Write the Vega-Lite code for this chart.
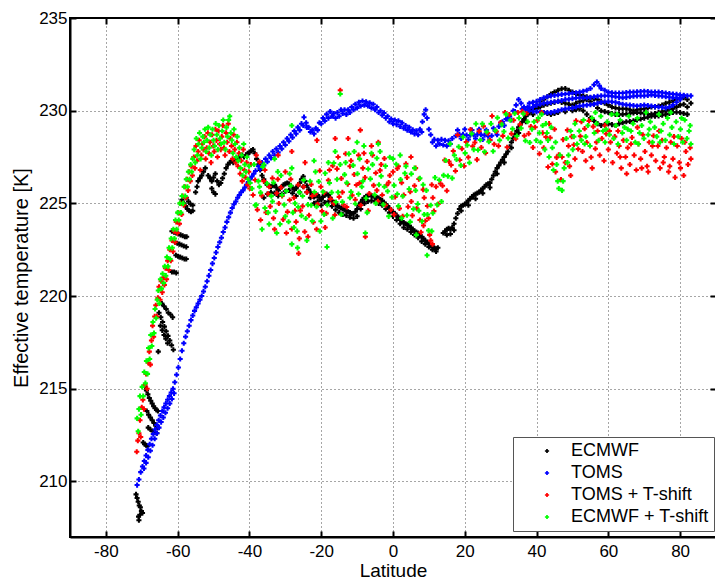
{
"$schema": "https://vega.github.io/schema/vega-lite/v6.json",
"width": 646, "height": 519,
"autosize": {"type": "none"},
"padding": {"left": 70, "top": 18, "right": 0, "bottom": 44},
"background": "white",
"config": {"view": {"stroke": "black", "strokeWidth": 2}, "font": "Liberation Sans"},
"datasets": {
"ecmwf": [
{"x":-71.6,"y":209.3},{"x":-71.3,"y":209.1},{"x":-71.0,"y":208.9},{"x":-70.7,"y":208.7},{"x":-70.4,"y":208.6},{"x":-70.1,"y":208.4},{"x":-69.8,"y":208.3},{"x":-70.9,"y":208.1},{"x":-70.8,"y":207.9},{"x":-70.5,"y":208.2},
{"x":-69.6,"y":212.1},{"x":-69.2,"y":212.0},{"x":-68.8,"y":211.95},{"x":-68.4,"y":211.9},
{"x":-68.2,"y":212.9},{"x":-67.6,"y":212.8},{"x":-67.0,"y":212.7},{"x":-66.4,"y":212.65},{"x":-65.8,"y":212.6},
{"x":-68.6,"y":213.8},{"x":-68.1,"y":213.6},{"x":-67.6,"y":213.45},{"x":-67.1,"y":213.3},{"x":-66.6,"y":213.15},{"x":-66.1,"y":213.0},{"x":-65.6,"y":212.9},
{"x":-69.1,"y":215.1},{"x":-68.7,"y":214.9},{"x":-68.3,"y":214.7},{"x":-67.9,"y":214.5},{"x":-67.5,"y":214.35},{"x":-67.1,"y":214.2},{"x":-66.7,"y":214.05},{"x":-66.3,"y":213.95},{"x":-65.9,"y":213.85},{"x":-65.5,"y":213.8},
{"x":-64.4,"y":219.6},{"x":-63.8,"y":219.45},{"x":-63.2,"y":219.3},{"x":-62.6,"y":219.1},{"x":-62.0,"y":219.0},{"x":-61.4,"y":218.85},
{"x":-65.2,"y":219.1},{"x":-64.7,"y":218.85},{"x":-64.2,"y":218.6},{"x":-63.7,"y":218.35},{"x":-63.2,"y":218.1},{"x":-62.7,"y":217.85},{"x":-62.2,"y":217.6},{"x":-61.7,"y":217.35},{"x":-61.2,"y":217.1},
{"x":-64.8,"y":218.4},{"x":-64.3,"y":218.15},{"x":-63.8,"y":217.9},{"x":-63.3,"y":217.7},{"x":-62.8,"y":217.45},{"x":-65.4,"y":217.0},
{"x":-61.6,"y":223.5},{"x":-61.0,"y":223.45},{"x":-60.4,"y":223.4},{"x":-59.8,"y":223.35},{"x":-59.2,"y":223.3},{"x":-58.6,"y":223.25},{"x":-58.0,"y":223.2},{"x":-57.5,"y":223.2},
{"x":-60.7,"y":222.9},{"x":-60.1,"y":222.85},{"x":-59.5,"y":222.8},{"x":-58.9,"y":222.75},{"x":-58.3,"y":222.7},{"x":-57.6,"y":222.65},
{"x":-60.5,"y":222.2},{"x":-59.9,"y":222.15},{"x":-59.3,"y":222.1},{"x":-58.7,"y":222.05},{"x":-58.1,"y":222.0},{"x":-57.6,"y":222.0},
{"x":-61.6,"y":221.3},{"x":-61.0,"y":221.3},{"x":-60.4,"y":221.25},
{"x":-58.8,"y":225.2},{"x":-58.3,"y":225.0},{"x":-57.8,"y":224.85},{"x":-57.3,"y":224.7},{"x":-56.8,"y":224.6},{"x":-56.3,"y":224.55},{"x":-55.8,"y":224.6},{"x":-57.6,"y":225.3},{"x":-57.0,"y":225.1},{"x":-56.4,"y":224.95},{"x":-55.8,"y":224.9},
{"x":-54.3,"y":226.2},{"x":-53.8,"y":226.35},{"x":-53.3,"y":226.5},{"x":-52.8,"y":226.7},{"x":-52.3,"y":226.9},{"x":-51.5,"y":226.5},{"x":-51,"y":226.35},{"x":-50.5,"y":226.2},{"x":-50,"y":226.4},{"x":-49.5,"y":226.6},{"x":-49,"y":226.2},{"x":-48.5,"y":226.0},{"x":-48,"y":226.1},{"x":-47.5,"y":226.35},{"x":-47,"y":226.6},{"x":-46.5,"y":226.9},{"x":-46,"y":227.1},{"x":-45.5,"y":227.2},{"x":-45,"y":227.3},{"x":-44.5,"y":227.2},{"x":-44,"y":227.35},{"x":-43.5,"y":227.4},{"x":-43,"y":227.5},{"x":-42.5,"y":227.55},{"x":-42,"y":227.6},{"x":-41.5,"y":227.5},{"x":-41,"y":227.6},{"x":-40.5,"y":227.7},{"x":-40,"y":227.75},{"x":-39.5,"y":227.85},{"x":-39,"y":227.9},{"x":-38.5,"y":227.7},{"x":-38,"y":227.4},{"x":-37.5,"y":227.1},{"x":-50.5,"y":225.8},{"x":-50,"y":225.6},{"x":-49.5,"y":225.5},{"x":-55,"y":225.6},{"x":-54.6,"y":225.9},
{"x":-37,"y":226.8},{"x":-36.5,"y":226.5},{"x":-36,"y":226.3},{"x":-35.5,"y":226.1},{"x":-35,"y":226.0},{"x":-34.5,"y":225.95},{"x":-34,"y":225.9},{"x":-33.5,"y":225.95},{"x":-33,"y":226.0},{"x":-32.5,"y":225.85},{"x":-32,"y":225.7},{"x":-31.5,"y":225.8},{"x":-31,"y":225.9},{"x":-30.5,"y":226.0},{"x":-30,"y":226.05},{"x":-29.5,"y":226.1},{"x":-29,"y":226.05},{"x":-28.5,"y":225.95},{"x":-28,"y":225.85},{"x":-27.5,"y":225.75},{"x":-27,"y":225.8},{"x":-26.5,"y":225.95},{"x":-26,"y":226.1},{"x":-25.5,"y":226.3},{"x":-25,"y":226.45},{"x":-24.5,"y":226.2},{"x":-24,"y":225.95},{"x":-23.5,"y":225.75},{"x":-23,"y":225.6},{"x":-22.5,"y":225.45},{"x":-22,"y":225.35},{"x":-21.5,"y":225.4},{"x":-21,"y":225.45},{"x":-20.5,"y":225.3},{"x":-20,"y":225.2},{"x":-19.5,"y":225.35},{"x":-19,"y":225.45},{"x":-18.5,"y":225.5},{"x":-18,"y":225.45},{"x":-17.5,"y":225.3},{"x":-17,"y":225.15},{"x":-16.5,"y":225.05},{"x":-16,"y":224.95},{"x":-15.5,"y":224.85},{"x":-15,"y":224.8},{"x":-14.5,"y":224.75},{"x":-14,"y":224.7},{"x":-13.5,"y":224.65},{"x":-13,"y":224.6},{"x":-12.5,"y":224.55},{"x":-12,"y":224.5},{"x":-11.5,"y":224.45},{"x":-11,"y":224.45},{"x":-10.5,"y":224.55},{"x":-10,"y":224.7},{"x":-9.5,"y":224.9},{"x":-9,"y":225.05},{"x":-8.5,"y":225.2},{"x":-8,"y":225.3},{"x":-7.5,"y":225.38},{"x":-7,"y":225.42},{"x":-6.5,"y":225.45},{"x":-6,"y":225.42},{"x":-5.5,"y":225.38},{"x":-5,"y":225.35},{"x":-4.5,"y":225.32},{"x":-4,"y":225.28},{"x":-3.5,"y":225.22},{"x":-3,"y":225.15},{"x":-2.5,"y":225.05},{"x":-2,"y":224.95},{"x":-1.5,"y":224.85},{"x":-1,"y":224.75},{"x":-0.5,"y":224.65},{"x":0,"y":224.55},{"x":0.5,"y":224.45},{"x":1,"y":224.35},{"x":1.5,"y":224.25},{"x":2,"y":224.15},{"x":2.5,"y":224.05},{"x":3,"y":223.95},{"x":3.5,"y":223.9},{"x":4,"y":223.85},{"x":4.5,"y":223.8},{"x":5,"y":223.7},{"x":5.5,"y":223.6},{"x":6,"y":223.5},{"x":6.5,"y":223.45},{"x":7,"y":223.4},{"x":7.5,"y":223.3},{"x":8,"y":223.2},{"x":8.5,"y":223.1},{"x":9,"y":223.0},{"x":9.5,"y":222.9},{"x":10,"y":222.8},{"x":10.5,"y":222.7},{"x":11,"y":222.65},{"x":11.5,"y":222.6},{"x":12,"y":222.55},{"x":12.5,"y":222.6},
{"x":-36,"y":225.3},{"x":-35,"y":225.5},{"x":-34,"y":225.6},{"x":-33,"y":225.55},{"x":-32,"y":225.4},{"x":-31,"y":225.5},{"x":-30,"y":225.65},{"x":-29,"y":225.7},{"x":-28,"y":225.55},{"x":-27,"y":225.4},{"x":-26,"y":225.6},{"x":-25,"y":225.9},{"x":-24,"y":225.6},{"x":-23,"y":225.3},{"x":-22,"y":225.0},{"x":-21,"y":225.1},{"x":-20,"y":224.9},{"x":-19,"y":225.05},{"x":-18,"y":225.1},{"x":-17,"y":224.85},{"x":-16,"y":224.65},{"x":-15,"y":224.5},{"x":-14,"y":224.4},{"x":-13,"y":224.35},{"x":-12,"y":224.25},{"x":-11,"y":224.2},{"x":-10,"y":224.3},{"x":-9,"y":224.7},{"x":-8,"y":225.0},{"x":-7,"y":225.1},{"x":-6,"y":225.15},{"x":-5,"y":225.1},{"x":-4,"y":225.0},{"x":-3,"y":224.9},{"x":-2,"y":224.7},{"x":-1,"y":224.5},{"x":0,"y":224.3},{"x":1,"y":224.1},{"x":2,"y":223.9},{"x":3,"y":223.7},{"x":4,"y":223.6},{"x":5,"y":223.45},{"x":6,"y":223.3},{"x":7,"y":223.15},{"x":8,"y":222.95},{"x":9,"y":222.8},{"x":10,"y":222.65},{"x":11,"y":222.5},{"x":12,"y":222.4},
{"x":14,"y":223.4},{"x":14.5,"y":223.5},{"x":15,"y":223.6},{"x":15.5,"y":223.65},{"x":16,"y":223.6},{"x":16.5,"y":223.7},{"x":17,"y":223.9},{"x":17.5,"y":224.2},{"x":18,"y":224.45},{"x":18.5,"y":224.7},{"x":19,"y":224.85},{"x":19.5,"y":224.9},{"x":20,"y":224.95},{"x":20.5,"y":225.05},{"x":21,"y":225.15},{"x":21.5,"y":225.25},{"x":22,"y":225.35},{"x":22.5,"y":225.45},{"x":23,"y":225.5},{"x":23.5,"y":225.55},{"x":24,"y":225.6},{"x":24.5,"y":225.7},{"x":25,"y":225.8},{"x":25.5,"y":225.9},{"x":26,"y":226.0},{"x":26.5,"y":226.05},{"x":27,"y":226.1},{"x":27.5,"y":226.3},{"x":28,"y":226.5},{"x":28.5,"y":226.7},{"x":29,"y":226.9},{"x":29.5,"y":227.05},{"x":30,"y":227.2},{"x":30.5,"y":227.35},{"x":31,"y":227.5},{"x":31.5,"y":227.65},{"x":32,"y":227.8},{"x":32.5,"y":228.05},{"x":33,"y":228.3},{"x":33.5,"y":228.5},{"x":34,"y":228.7},{"x":34.5,"y":228.9},{"x":35,"y":229.1},{"x":35.5,"y":229.25},{"x":36,"y":229.4},{"x":36.5,"y":229.55},{"x":37,"y":229.7},{"x":37.5,"y":229.8},{"x":38,"y":229.9},{"x":38.5,"y":230.0},{"x":39,"y":230.1},{"x":39.5,"y":230.2},{"x":40,"y":230.3},
{"x":15,"y":223.3},{"x":16,"y":223.35},{"x":17,"y":223.55},{"x":19,"y":224.6},{"x":21,"y":224.9},{"x":23,"y":225.25},{"x":25,"y":225.55},{"x":27,"y":225.85},{"x":29,"y":226.6},{"x":31,"y":227.2},{"x":33,"y":228.0},{"x":35,"y":228.8},{"x":37,"y":229.4},{"x":39,"y":229.8},
{"x":41,"y":230.5},{"x":42,"y":230.6},{"x":43,"y":230.75},{"x":44,"y":230.9},{"x":45,"y":231.0},{"x":46,"y":231.1},{"x":47,"y":231.18},{"x":48,"y":231.2},{"x":49,"y":231.1},{"x":50,"y":231.0},{"x":51,"y":230.9},{"x":52,"y":230.85},{"x":53,"y":230.8},{"x":54,"y":230.75},{"x":55,"y":230.7},{"x":56,"y":230.65},{"x":57,"y":230.6},{"x":58,"y":230.5},{"x":59,"y":230.4},{"x":60,"y":230.3},{"x":61,"y":230.2},{"x":62,"y":230.15},{"x":63,"y":230.1},{"x":64,"y":230.1},{"x":65,"y":230.1},{"x":66,"y":230.05},{"x":67,"y":230.0},{"x":68,"y":230.05},{"x":69,"y":230.08},{"x":70,"y":230.1},{"x":71,"y":230.15},{"x":72,"y":230.2},{"x":73,"y":230.2},{"x":74,"y":230.25},{"x":75,"y":230.3},{"x":76,"y":230.4},{"x":77,"y":230.45},{"x":78,"y":230.55},{"x":79,"y":230.6},{"x":80,"y":230.65},{"x":81,"y":230.7},{"x":82,"y":230.6},{"x":83,"y":230.4},
{"x":40,"y":230.1},{"x":41,"y":230.2},{"x":42,"y":230.3},{"x":43,"y":230.35},{"x":44,"y":230.4},{"x":45,"y":230.45},{"x":46,"y":230.5},{"x":47,"y":230.45},{"x":48,"y":230.4},{"x":49,"y":230.35},{"x":50,"y":230.3},{"x":51,"y":230.4},{"x":52,"y":230.5},{"x":53,"y":230.55},{"x":54,"y":230.6},{"x":55,"y":230.5},{"x":56,"y":230.35},{"x":57,"y":230.15},{"x":58,"y":230.0},{"x":59,"y":229.95},{"x":60,"y":229.9},{"x":61,"y":229.85},{"x":62,"y":229.8},{"x":63,"y":229.8},{"x":64,"y":229.8},{"x":65,"y":229.82},{"x":66,"y":229.85},{"x":67,"y":229.88},{"x":68,"y":229.9},{"x":69,"y":229.88},{"x":70,"y":229.85},{"x":71,"y":229.82},{"x":72,"y":229.8},{"x":73,"y":229.85},{"x":74,"y":229.9},{"x":75,"y":229.95},{"x":76,"y":230.0},{"x":77,"y":230.05},{"x":78,"y":230.1},{"x":79,"y":230.2},{"x":80,"y":230.3},{"x":81,"y":230.35},{"x":82,"y":230.2},
{"x":42,"y":229.9},{"x":43,"y":229.85},{"x":44,"y":229.8},{"x":45,"y":229.85},{"x":46,"y":229.9},{"x":48,"y":229.95},{"x":50,"y":230.0},{"x":51,"y":230.05},{"x":52,"y":230.1},{"x":53,"y":230.0},{"x":54,"y":229.8},{"x":55,"y":229.6},{"x":56,"y":229.45},{"x":57,"y":229.3},{"x":58,"y":229.2},{"x":59,"y":229.25},{"x":60,"y":229.3},{"x":61,"y":229.25},{"x":62,"y":229.2},{"x":63,"y":229.3},{"x":64,"y":229.35},{"x":65,"y":229.4},{"x":66,"y":229.42},{"x":67,"y":229.45},{"x":68,"y":229.5},{"x":69,"y":229.55},{"x":70,"y":229.6},{"x":71,"y":229.65},{"x":72,"y":229.7},{"x":73,"y":229.7},{"x":74,"y":229.72},{"x":75,"y":229.75},{"x":76,"y":229.8},{"x":77,"y":229.85},{"x":78,"y":229.9},{"x":79,"y":229.92},{"x":80,"y":229.9},{"x":81,"y":229.85},{"x":82,"y":229.8}
],
"toms": [
{"x":-71.3,"y":209.8},{"x":-70.8,"y":210.1},{"x":-70.3,"y":210.5},{"x":-69.8,"y":210.8},{"x":-69.3,"y":211.1},{"x":-68.8,"y":211.4},{"x":-68.3,"y":211.7},{"x":-67.8,"y":212.0},{"x":-67.3,"y":212.3},{"x":-66.8,"y":212.55},{"x":-66.3,"y":212.8},{"x":-65.8,"y":213.05},{"x":-65.3,"y":213.3},{"x":-64.8,"y":213.55},{"x":-64.3,"y":213.8},{"x":-63.8,"y":214.0},{"x":-63.3,"y":214.2},{"x":-62.8,"y":214.4},{"x":-62.3,"y":214.6},{"x":-61.8,"y":214.8},{"x":-61.3,"y":215.0},{"x":-60.8,"y":215.35},{"x":-60.3,"y":215.75},{"x":-59.8,"y":216.15},{"x":-59.3,"y":216.6},{"x":-58.8,"y":217.05},{"x":-58.3,"y":217.45},{"x":-57.8,"y":217.8},{"x":-57.3,"y":218.1},{"x":-56.8,"y":218.4},{"x":-56.3,"y":218.7},{"x":-55.8,"y":218.95},{"x":-55.3,"y":219.2},{"x":-54.8,"y":219.4},{"x":-54.3,"y":219.6},{"x":-53.8,"y":219.8},{"x":-53.3,"y":220.0},{"x":-52.8,"y":220.25},{"x":-52.3,"y":220.5},{"x":-51.8,"y":220.8},{"x":-51.3,"y":221.1},{"x":-50.8,"y":221.4},{"x":-50.3,"y":221.75},{"x":-49.8,"y":222.05},{"x":-49.3,"y":222.35},{"x":-48.8,"y":222.65},{"x":-48.3,"y":222.9},{"x":-47.8,"y":223.15},{"x":-47.3,"y":223.45},{"x":-46.8,"y":223.7},{"x":-46.3,"y":224.0},{"x":-45.8,"y":224.25},{"x":-45.3,"y":224.5},{"x":-44.8,"y":224.75},{"x":-44.3,"y":224.95},{"x":-43.8,"y":225.1},{"x":-43.3,"y":225.3},{"x":-42.8,"y":225.45},{"x":-42.3,"y":225.6},{"x":-41.8,"y":225.7},{"x":-41.3,"y":225.85},{"x":-40.8,"y":226.0},{"x":-40.3,"y":226.15},{"x":-39.8,"y":226.3},{"x":-39.3,"y":226.45},{"x":-38.8,"y":226.6},{"x":-38.3,"y":226.75},{"x":-37.5,"y":227.0},{"x":-36.5,"y":227.2},{"x":-35.5,"y":227.4},{"x":-34.5,"y":227.6},{"x":-33.5,"y":227.8},{"x":-32.5,"y":227.95},{"x":-31.5,"y":228.1},{"x":-30.5,"y":228.3},{"x":-29.5,"y":228.5},{"x":-28.5,"y":228.7},{"x":-27.5,"y":228.9},{"x":-26.5,"y":229.1},{"x":-25.5,"y":229.3},{"x":-24.8,"y":229.65},{"x":-24.2,"y":229.35},{"x":-23.5,"y":229.1},{"x":-22.5,"y":228.95},{"x":-21.5,"y":229.05},{"x":-20.5,"y":229.35},{"x":-19.5,"y":229.6},{"x":-18.5,"y":229.8},{"x":-17.5,"y":229.95},{"x":-16.5,"y":229.85},{"x":-15.5,"y":229.9},{"x":-14.5,"y":230.05},{"x":-13.5,"y":230.05},{"x":-12.5,"y":230.05},{"x":-11.5,"y":230.2},{"x":-10.5,"y":230.35},{"x":-9.5,"y":230.45},{"x":-8.5,"y":230.52},{"x":-7.5,"y":230.48},{"x":-6.5,"y":230.42},{"x":-5.5,"y":230.35},{"x":-4.5,"y":230.2},{"x":-3.5,"y":230.0},{"x":-2.5,"y":229.88},{"x":-1.5,"y":229.7},{"x":-0.5,"y":229.55},{"x":0.5,"y":229.5},{"x":1.5,"y":229.45},{"x":2.5,"y":229.35},{"x":3.5,"y":229.2},{"x":4.5,"y":229.1},{"x":5.5,"y":228.97},{"x":6.5,"y":228.92},{"x":7.5,"y":229.0},{"x":8.2,"y":229.4},{"x":8.7,"y":229.8},{"x":9.1,"y":230.05},{"x":9.5,"y":229.6},{"x":10,"y":229.0},{"x":10.5,"y":228.7},{"x":11.5,"y":228.45},{"x":12.5,"y":228.4},{"x":13.5,"y":228.45},{"x":14.5,"y":228.4},{"x":15.5,"y":228.38},{"x":16.5,"y":228.5},{"x":17.5,"y":228.65},{"x":18.5,"y":228.72},{"x":19.5,"y":228.72},{"x":20.5,"y":228.68},{"x":21.5,"y":228.68},{"x":22.5,"y":228.7},{"x":23.5,"y":228.72},{"x":24.5,"y":228.72},{"x":25.5,"y":228.68},{"x":26.5,"y":228.62},{"x":27.5,"y":228.65},{"x":28.5,"y":228.9},{"x":29.5,"y":229.15},{"x":30.5,"y":229.4},{"x":31.5,"y":229.55},{"x":32.5,"y":229.7},{"x":33.5,"y":230.0},{"x":34.3,"y":230.3},{"x":35,"y":230.6},{"x":35.7,"y":230.4},{"x":36.5,"y":230.2},{"x":37.5,"y":230.2},
{"x":-69.4,"y":210.7},{"x":-68.8,"y":211.0},{"x":-68.2,"y":211.3},{"x":-67.6,"y":211.65},{"x":-67.0,"y":211.95},{"x":-66.4,"y":212.3},{"x":-65.8,"y":212.6},{"x":-65.2,"y":212.9},{"x":-64.6,"y":213.2},{"x":-64.0,"y":213.45},{"x":-63.4,"y":213.7},{"x":-62.8,"y":213.95},{"x":-62.2,"y":214.2},{"x":-61.6,"y":214.45},{"x":-61.0,"y":214.75},
{"x":-37,"y":226.85},{"x":-36,"y":227.05},{"x":-35,"y":227.25},{"x":-34,"y":227.45},{"x":-33,"y":227.6},{"x":-32,"y":227.75},{"x":-31,"y":227.95},{"x":-30,"y":228.15},{"x":-29,"y":228.35},{"x":-28,"y":228.55},{"x":-27,"y":228.75},{"x":-26,"y":228.95},{"x":-25,"y":229.2},{"x":-24,"y":229.1},{"x":-23,"y":228.85},{"x":-22,"y":228.75},{"x":-21,"y":228.95},
{"x":-20,"y":229.3},{"x":-19,"y":229.45},{"x":-18,"y":229.6},{"x":-17,"y":229.7},{"x":-16,"y":229.6},{"x":-15,"y":229.7},{"x":-14,"y":229.85},{"x":-13,"y":229.8},{"x":-12,"y":229.9},{"x":-11,"y":230.05},{"x":-10,"y":230.15},{"x":-9,"y":230.25},{"x":-8,"y":230.3},{"x":-7,"y":230.25},{"x":-6,"y":230.15},{"x":-5,"y":230.05},{"x":-4,"y":229.9},{"x":-3,"y":229.75},{"x":-2,"y":229.6},{"x":-1,"y":229.4},{"x":0,"y":229.3},{"x":1,"y":229.25},{"x":2,"y":229.15},{"x":3,"y":229.05},{"x":4,"y":228.95},{"x":5,"y":228.85},{"x":6,"y":228.75},{"x":7,"y":228.7},{"x":8,"y":228.85},
{"x":11,"y":228.3},{"x":12,"y":228.1},{"x":13,"y":228.2},{"x":14,"y":228.15},{"x":15,"y":228.1},{"x":16,"y":228.2},
{"x":18,"y":228.95},{"x":20,"y":229.0},{"x":22,"y":228.95},{"x":24,"y":229.0},{"x":26,"y":228.95},{"x":28,"y":229.05},{"x":30,"y":229.35},{"x":32,"y":229.55},{"x":34,"y":229.95},{"x":19,"y":228.5},{"x":21,"y":228.45},{"x":23,"y":228.5},{"x":25,"y":228.45},{"x":27,"y":228.4},{"x":29,"y":228.7},{"x":31,"y":229.2},{"x":33,"y":229.5},
{"x":38,"y":230.4},{"x":39,"y":230.45},{"x":40,"y":230.5},{"x":41,"y":230.6},{"x":42,"y":230.7},{"x":43,"y":230.75},{"x":44,"y":230.8},{"x":45,"y":230.82},{"x":46,"y":230.85},{"x":47,"y":230.88},{"x":48,"y":230.9},{"x":49,"y":230.92},{"x":50,"y":230.95},{"x":51,"y":230.97},{"x":52,"y":231.0},{"x":53,"y":231.05},{"x":54,"y":231.1},{"x":55,"y":231.2},{"x":56,"y":231.4},{"x":56.8,"y":231.55},{"x":57.5,"y":231.35},{"x":58,"y":231.2},{"x":59,"y":231.1},{"x":60,"y":231.0},{"x":61,"y":230.97},{"x":62,"y":230.95},{"x":63,"y":230.95},{"x":64,"y":230.95},{"x":65,"y":230.98},{"x":66,"y":231.0},{"x":67,"y":231.0},{"x":68,"y":231.02},{"x":69,"y":231.03},{"x":70,"y":231.05},{"x":71,"y":231.03},{"x":72,"y":231.0},{"x":73,"y":231.0},{"x":74,"y":231.0},{"x":75,"y":230.98},{"x":76,"y":230.95},{"x":77,"y":230.92},{"x":78,"y":230.9},{"x":79,"y":230.88},{"x":80,"y":230.85},{"x":81,"y":230.83},{"x":82,"y":230.8},{"x":83,"y":230.8},
{"x":38,"y":230.15},{"x":39,"y":230.2},{"x":40,"y":230.3},{"x":41,"y":230.35},{"x":42,"y":230.4},{"x":43,"y":230.42},{"x":44,"y":230.45},{"x":45,"y":230.48},{"x":46,"y":230.5},{"x":47,"y":230.55},{"x":48,"y":230.6},{"x":49,"y":230.62},{"x":50,"y":230.65},{"x":51,"y":230.68},{"x":52,"y":230.7},{"x":53,"y":230.7},{"x":54,"y":230.7},{"x":55,"y":230.72},{"x":56,"y":230.75},{"x":57,"y":230.78},{"x":58,"y":230.8},{"x":59,"y":230.8},{"x":60,"y":230.8},{"x":61,"y":230.78},{"x":62,"y":230.75},{"x":63,"y":230.72},{"x":64,"y":230.7},{"x":65,"y":230.72},{"x":66,"y":230.75},{"x":67,"y":230.78},{"x":68,"y":230.8},{"x":69,"y":230.8},{"x":70,"y":230.8},{"x":71,"y":230.82},{"x":72,"y":230.85},{"x":73,"y":230.82},{"x":74,"y":230.8},{"x":75,"y":230.78},{"x":76,"y":230.75},{"x":77,"y":230.72},{"x":78,"y":230.7},{"x":79,"y":230.7},{"x":80,"y":230.7},
{"x":36,"y":230.1},{"x":37,"y":230.05},{"x":38,"y":230.0},{"x":39,"y":229.97},{"x":40,"y":229.95},{"x":41,"y":229.92},{"x":42,"y":229.9},{"x":43,"y":229.9},{"x":44,"y":229.9},{"x":45,"y":229.95},{"x":46,"y":230.0},{"x":47,"y":230.05},{"x":48,"y":230.1},{"x":49,"y":230.12},{"x":50,"y":230.15},{"x":51,"y":230.2},{"x":52,"y":230.25},{"x":53,"y":230.28},{"x":54,"y":230.3},{"x":55,"y":230.32},{"x":56,"y":230.35},{"x":57,"y":230.4},{"x":58,"y":230.45},{"x":59,"y":230.48},{"x":60,"y":230.5},{"x":61,"y":230.48},{"x":62,"y":230.45},{"x":63,"y":230.4},{"x":64,"y":230.35},{"x":65,"y":230.32},{"x":66,"y":230.3},{"x":67,"y":230.28},{"x":68,"y":230.25},{"x":69,"y":230.28},{"x":70,"y":230.3},{"x":71,"y":230.28},{"x":72,"y":230.25},{"x":73,"y":230.22},{"x":74,"y":230.2},{"x":75,"y":230.18},{"x":76,"y":230.15},{"x":77,"y":230.2},{"x":78,"y":230.3},{"x":79,"y":230.45},{"x":80,"y":230.6},{"x":81,"y":230.8}
],
"tomsT": [
{"x":-71.4,"y":211.6},{"x":-71.1,"y":212.2},{"x":-70.8,"y":212.6},{"x":-70.5,"y":213.3},{"x":-70.3,"y":212.4},{"x":-70.0,"y":214.0},{"x":-69.7,"y":214.4},{"x":-69.4,"y":213.9},{"x":-69.1,"y":215.2},{"x":-68.8,"y":215.8},{"x":-68.5,"y":215.0},{"x":-68.2,"y":216.4},{"x":-67.9,"y":217.0},{"x":-67.6,"y":216.3},{"x":-67.3,"y":217.6},{"x":-67.0,"y":218.4},{"x":-66.7,"y":217.8},{"x":-66.4,"y":218.9},{"x":-66.1,"y":219.5},{"x":-65.8,"y":218.9},{"x":-65.5,"y":219.9},{"x":-65.2,"y":220.5},{"x":-64.9,"y":219.8},{"x":-64.6,"y":220.8},{"x":-64.3,"y":220.2},{"x":-64.0,"y":221.0},{"x":-63.7,"y":220.6},{"x":-63.4,"y":221.5},{"x":-63.1,"y":220.9},{"x":-62.8,"y":221.9},{"x":-62.5,"y":221.4},{"x":-62.2,"y":222.5},{"x":-61.9,"y":221.9},{"x":-61.6,"y":223.0},{"x":-61.3,"y":222.4},{"x":-61.0,"y":223.5},{"x":-60.7,"y":222.9},{"x":-60.4,"y":224.0},{"x":-60.1,"y":223.4},{"x":-59.8,"y":224.5},{"x":-59.5,"y":223.9},{"x":-59.2,"y":225.0},{"x":-58.9,"y":224.4},{"x":-58.6,"y":225.4},{"x":-58.3,"y":224.9},{"x":-58.0,"y":225.9},{"x":-57.7,"y":225.3},{"x":-57.4,"y":226.3},{"x":-57.1,"y":225.7},{"x":-56.8,"y":226.7},{"x":-56.5,"y":226.2},{"x":-56.2,"y":227.0},{"x":-55.9,"y":226.5},
{"x":-55.5,"y":227.5},{"x":-55.2,"y":226.9},{"x":-54.9,"y":228.1},{"x":-54.6,"y":227.3},{"x":-54.3,"y":227.8},{"x":-54.0,"y":228.4},{"x":-53.7,"y":226.8},{"x":-53.4,"y":227.6},{"x":-53.1,"y":228.2},{"x":-52.8,"y":227.9},{"x":-52.5,"y":228.6},{"x":-52.2,"y":227.4},{"x":-51.9,"y":228.0},{"x":-51.6,"y":228.8},{"x":-51.3,"y":227.7},{"x":-51.0,"y":228.3},{"x":-50.7,"y":227.2},{"x":-50.4,"y":228.7},{"x":-50.1,"y":228.1},{"x":-49.8,"y":227.8},{"x":-49.5,"y":229.0},{"x":-49.2,"y":228.4},{"x":-48.9,"y":227.5},{"x":-48.6,"y":228.9},{"x":-48.3,"y":228.2},{"x":-48.0,"y":227.9},{"x":-47.7,"y":228.6},{"x":-47.4,"y":229.2},{"x":-47.1,"y":228.0},{"x":-46.8,"y":227.6},{"x":-46.5,"y":228.8},{"x":-46.2,"y":228.3},{"x":-45.9,"y":229.3},{"x":-45.6,"y":227.8},{"x":-45.3,"y":228.5},{"x":-45.0,"y":228.1},{"x":-44.7,"y":227.4},{"x":-44.4,"y":228.7},{"x":-44.1,"y":227.9},{"x":-43.8,"y":227.2},{"x":-43.5,"y":228.3},{"x":-43.2,"y":227.0},{"x":-42.9,"y":227.7},{"x":-42.6,"y":226.6},{"x":-42.3,"y":227.3},{"x":-42.0,"y":226.2},{"x":-41.7,"y":227.9},{"x":-41.4,"y":226.8},{"x":-41.1,"y":226.4},{"x":-40.8,"y":227.2},{"x":-40.5,"y":226.0},{"x":-40.2,"y":226.7},{"x":-39.9,"y":225.8},
{"x":-39.6,"y":227.1},{"x":-39.0,"y":225.45},{"x":-38.4,"y":226.26},{"x":-37.8,"y":224.66},{"x":-37.2,"y":227.24},{"x":-36.6,"y":225.42},{"x":-36.0,"y":226.2},{"x":-35.4,"y":224.51},{"x":-34.8,"y":225.52},{"x":-34.2,"y":224.83},{"x":-33.6,"y":226.36},{"x":-33.0,"y":223.6},{"x":-32.4,"y":225.54},{"x":-31.8,"y":224.99},{"x":-31.2,"y":225.86},{"x":-30.6,"y":224.13},{"x":-30.0,"y":226.7},{"x":-29.4,"y":224.54},{"x":-28.8,"y":225.18},{"x":-28.2,"y":223.62},{"x":-27.6,"y":225.3},{"x":-27.0,"y":224.0},{"x":-26.4,"y":226.0},{"x":-25.8,"y":224.61},{"x":-25.2,"y":224.84},{"x":-24.6,"y":223.47},{"x":-24.0,"y":225.6},{"x":-23.4,"y":224.36},{"x":-22.8,"y":226.02},{"x":-22.2,"y":223.98},{"x":-21.6,"y":225.49},{"x":-21.0,"y":224.95},{"x":-20.4,"y":226.76},{"x":-19.8,"y":224.58},{"x":-19.2,"y":225.57},{"x":-18.6,"y":224.46},{"x":-18.0,"y":226.25},{"x":-17.4,"y":225.24},{"x":-16.8,"y":227.03},{"x":-16.2,"y":224.37},{"x":-15.6,"y":226.86},{"x":-15.0,"y":225.35},{"x":-14.4,"y":226.34},{"x":-13.8,"y":224.92},{"x":-13.2,"y":227.68},{"x":-12.6,"y":226.04},{"x":-12.0,"y":227.0},{"x":-11.4,"y":225.43},{"x":-10.8,"y":226.56},{"x":-10.2,"y":225.99},{"x":-9.6,"y":227.6},{"x":-9.0,"y":224.9},{"x":-8.4,"y":226.9},{"x":-7.8,"y":226.39},{"x":-7.2,"y":227.26},{"x":-6.6,"y":225.53},{"x":-6.0,"y":228.1},{"x":-5.4,"y":225.97},{"x":-4.8,"y":226.64},{"x":-4.2,"y":225.11},{"x":-3.6,"y":226.78},{"x":-3.0,"y":225.45},{"x":-2.4,"y":227.42},{"x":-1.8,"y":225.98},{"x":-1.2,"y":226.12},{"x":-0.6,"y":224.66},{"x":0.0,"y":226.7},{"x":0.6,"y":225.34},{"x":1.2,"y":226.88},{"x":1.8,"y":224.72},{"x":2.4,"y":226.11},{"x":3.0,"y":225.45},{"x":3.6,"y":227.14},{"x":4.2,"y":224.82},{"x":4.8,"y":225.63},{"x":5.4,"y":224.34},{"x":6.0,"y":225.95},{"x":6.6,"y":224.73},{"x":7.2,"y":226.31},{"x":7.8,"y":223.44},{"x":8.4,"y":225.74},{"x":9.0,"y":224.05},{"x":9.6,"y":224.86},{"x":10.2,"y":223.3},{"x":10.8,"y":226.0},{"x":11.4,"y":224.58},{"x":12.0,"y":225.9},
{"x":-38.1,"y":227.6},{"x":-36.9,"y":224.1},{"x":-35.7,"y":226.8},{"x":-34.5,"y":225.9},{"x":-33.3,"y":224.2},{"x":-32.1,"y":226.3},{"x":-30.9,"y":225.4},{"x":-29.7,"y":223.4},{"x":-28.5,"y":226.3},{"x":-27.3,"y":224.6},{"x":-26.1,"y":223.1},{"x":-24.9,"y":225.9},{"x":-23.7,"y":223.2},{"x":-22.5,"y":225.4},{"x":-21.3,"y":223.6},{"x":-20.1,"y":225.9},{"x":-18.9,"y":223.7},{"x":-17.7,"y":226.8},{"x":-16.5,"y":225.0},{"x":-15.3,"y":227.5},{"x":-14.1,"y":225.6},{"x":-12.9,"y":224.8},{"x":-11.7,"y":227.3},{"x":-10.5,"y":225.2},{"x":-9.3,"y":226.1},{"x":-8.1,"y":227.7},{"x":-6.9,"y":224.6},{"x":-5.7,"y":227.6},{"x":-4.5,"y":225.7},{"x":-3.3,"y":227.1},{"x":-2.1,"y":224.9},{"x":-0.9,"y":226.5},{"x":0.3,"y":224.4},{"x":1.5,"y":227.0},{"x":2.7,"y":224.3},{"x":3.9,"y":226.4},{"x":5.1,"y":225.1},{"x":6.3,"y":226.9},{"x":7.5,"y":224.1},{"x":8.7,"y":225.3},{"x":9.9,"y":224.2},{"x":11.1,"y":225.3},
{"x":12.6,"y":224.96},{"x":13.2,"y":226.07},{"x":13.8,"y":225.95},{"x":14.4,"y":227.33},{"x":15.0,"y":225.68},{"x":15.6,"y":227.26},{"x":16.2,"y":227.07},{"x":16.8,"y":227.82},{"x":17.4,"y":226.75},{"x":18.0,"y":228.69},{"x":18.6,"y":227.34},{"x":19.2,"y":227.95},{"x":19.8,"y":227.02},{"x":20.4,"y":228.31},{"x":21.0,"y":227.49},{"x":21.6,"y":228.98},{"x":22.2,"y":228.08},{"x":22.8,"y":228.28},{"x":23.4,"y":227.36},{"x":24.0,"y":228.89},{"x":24.6,"y":228.01},{"x":25.2,"y":229.16},{"x":25.8,"y":227.72},{"x":26.4,"y":228.79},{"x":27.0,"y":228.42},{"x":27.6,"y":229.71},{"x":28.2,"y":228.19},{"x":28.8,"y":228.88},{"x":29.4,"y":228.1},{"x":30.0,"y":229.36},{"x":30.6,"y":228.64},{"x":31.2,"y":229.9},{"x":31.8,"y":228.03},{"x":32.4,"y":229.79},{"x":33.0,"y":228.76},{"x":33.6,"y":229.48},{"x":34.2,"y":228.49},{"x":34.8,"y":229.9},{"x":35.4,"y":229.26},{"x":36.0,"y":229.96},{"x":36.6,"y":228.65},{"x":37.2,"y":229.85},{"x":37.8,"y":228.76},{"x":38.4,"y":229.15},{"x":39.0,"y":228.01},{"x":39.6,"y":229.11},
{"x":40.2,"y":229.47},{"x":40.8,"y":227.68},{"x":41.4,"y":229.9},{"x":42.0,"y":228.0},{"x":42.6,"y":228.58},{"x":43.2,"y":226.96},{"x":43.8,"y":228.54},{"x":44.4,"y":227.12},{"x":45.0,"y":229.0},{"x":45.6,"y":227.48},{"x":46.2,"y":227.62},{"x":46.8,"y":226.28},{"x":47.4,"y":228.44},{"x":48.0,"y":227.2},{"x":48.6,"y":228.95},{"x":49.2,"y":227.0},{"x":49.8,"y":228.6},{"x":50.4,"y":228.16},{"x":51.0,"y":229.45},{"x":51.6,"y":227.93},{"x":52.2,"y":228.62},{"x":52.8,"y":227.8},{"x":53.4,"y":229.03},{"x":54.0,"y":228.28},{"x":54.6,"y":229.45},{"x":55.2,"y":227.49},{"x":55.8,"y":229.14},{"x":56.4,"y":227.95},{"x":57.0,"y":228.9},{"x":57.6,"y":227.6},{"x":58.2,"y":228.5},{"x":58.8,"y":227.3},{"x":59.4,"y":228.75},{"x":60.0,"y":227.9},{"x":60.6,"y":228.3},{"x":61.2,"y":227.2},{"x":61.8,"y":228.6},{"x":62.4,"y":227.7},{"x":63.0,"y":228.1},{"x":63.6,"y":226.9},{"x":64.2,"y":228.4},{"x":64.8,"y":227.5},{"x":65.4,"y":228.0},{"x":66.0,"y":227.1},{"x":66.6,"y":228.55},{"x":67.2,"y":227.6},{"x":67.8,"y":226.8},{"x":68.4,"y":228.2},{"x":69.0,"y":227.4},{"x":69.6,"y":228.7},{"x":70.2,"y":227.8},{"x":70.8,"y":227.0},{"x":71.4,"y":228.3},{"x":72.0,"y":227.6},{"x":72.6,"y":228.65},{"x":73.2,"y":227.3},{"x":73.8,"y":228.1},{"x":74.4,"y":226.9},{"x":75.0,"y":228.4},{"x":75.6,"y":227.5},{"x":76.2,"y":228.0},{"x":76.8,"y":226.7},{"x":77.4,"y":228.3},{"x":78.0,"y":227.4},{"x":78.6,"y":226.4},{"x":79.2,"y":228.1},{"x":79.8,"y":227.2},{"x":80.4,"y":228.5},{"x":81.0,"y":226.5},{"x":81.6,"y":227.8},{"x":82.2,"y":227.1},{"x":82.8,"y":228.0},
{"x":62.7,"y":228.9},{"x":65.1,"y":226.6},{"x":68.1,"y":229.1},{"x":71.1,"y":226.7},{"x":74.1,"y":228.9},{"x":77.1,"y":227.0},{"x":80.1,"y":226.9},{"x":83.0,"y":227.4},{"x":59.1,"y":229.2},{"x":55.5,"y":226.9},{"x":52.5,"y":229.4},{"x":49.5,"y":226.5},
{"x":41.7,"y":228.8},{"x":43.5,"y":229.3},{"x":45.3,"y":226.7},{"x":47.1,"y":227.5},{"x":48.9,"y":228.1},{"x":50.7,"y":227.4},{"x":53.7,"y":227.3},{"x":56.7,"y":228.3},{"x":60.3,"y":228.9},{"x":63.3,"y":227.5},{"x":66.3,"y":228.2},{"x":69.3,"y":226.9},{"x":72.3,"y":228.1},{"x":75.3,"y":227.2},{"x":78.3,"y":228.6},{"x":81.3,"y":228.3},
{"x":-14.7,"y":231.1},{"x":-28.2,"y":227.8},{"x":-21.2,"y":228.4},{"x":-16.1,"y":228.5},{"x":-9.1,"y":228.95},{"x":-4.1,"y":228.3},{"x":-26.3,"y":222.3},{"x":-7.7,"y":223.2},{"x":8.5,"y":223.8},{"x":-32,"y":227.6},{"x":-12.5,"y":228.5},{"x":-24.5,"y":227.2},{"x":5,"y":227.5},{"x":11,"y":222.8},{"x":10.5,"y":223.0}
],
"ecmwfT": [
{"x":-71.3,"y":213.4},{"x":-71.0,"y":212.7},{"x":-70.8,"y":213.9},{"x":-70.5,"y":214.6},{"x":-70.2,"y":213.6},{"x":-69.9,"y":215.1},{"x":-69.6,"y":214.6},{"x":-69.3,"y":215.9},{"x":-69.0,"y":215.3},{"x":-68.7,"y":216.5},{"x":-68.4,"y":215.8},{"x":-68.1,"y":217.2},{"x":-67.8,"y":216.6},{"x":-67.5,"y":217.9},{"x":-67.2,"y":217.3},{"x":-66.9,"y":218.6},{"x":-66.6,"y":218.0},{"x":-66.3,"y":219.3},{"x":-66.0,"y":218.8},{"x":-65.7,"y":219.8},{"x":-65.4,"y":220.3},{"x":-65.1,"y":219.6},{"x":-64.8,"y":220.9},{"x":-64.5,"y":220.4},{"x":-64.2,"y":221.2},{"x":-63.9,"y":220.7},{"x":-63.6,"y":221.6},{"x":-63.3,"y":221.1},{"x":-63.0,"y":222.1},{"x":-62.7,"y":221.6},{"x":-62.4,"y":222.6},{"x":-62.1,"y":222.0},{"x":-61.8,"y":223.1},{"x":-61.5,"y":222.6},{"x":-61.2,"y":223.6},{"x":-60.9,"y":223.1},{"x":-60.6,"y":224.1},{"x":-60.3,"y":223.6},{"x":-60.0,"y":224.5},{"x":-59.7,"y":224.1},{"x":-59.4,"y":225.0},{"x":-59.1,"y":224.5},{"x":-58.8,"y":225.4},{"x":-58.5,"y":225.0},{"x":-58.2,"y":225.9},{"x":-57.9,"y":225.4},{"x":-57.6,"y":226.3},{"x":-57.3,"y":225.9},{"x":-57.0,"y":226.7},{"x":-56.7,"y":226.3},{"x":-56.4,"y":227.1},{"x":-56.1,"y":226.7},{"x":-55.8,"y":227.4},
{"x":-55.4,"y":227.9},{"x":-55.1,"y":227.2},{"x":-54.8,"y":228.5},{"x":-54.5,"y":227.6},{"x":-54.2,"y":228.2},{"x":-53.9,"y":228.8},{"x":-53.6,"y":227.4},{"x":-53.3,"y":228.0},{"x":-53.0,"y":228.6},{"x":-52.7,"y":228.3},{"x":-52.4,"y":229.0},{"x":-52.1,"y":227.8},{"x":-51.8,"y":228.4},{"x":-51.5,"y":229.1},{"x":-51.2,"y":228.0},{"x":-50.9,"y":228.7},{"x":-50.6,"y":227.6},{"x":-50.3,"y":229.0},{"x":-50.0,"y":228.4},{"x":-49.7,"y":228.1},{"x":-49.4,"y":229.3},{"x":-49.1,"y":228.7},{"x":-48.8,"y":227.9},{"x":-48.5,"y":229.2},{"x":-48.2,"y":228.5},{"x":-47.9,"y":228.2},{"x":-47.6,"y":228.9},{"x":-47.3,"y":229.5},{"x":-47.0,"y":228.3},{"x":-46.7,"y":227.9},{"x":-46.4,"y":229.1},{"x":-46.1,"y":228.6},{"x":-45.8,"y":229.5},{"x":-45.5,"y":229.7},{"x":-45.2,"y":228.8},{"x":-44.9,"y":228.4},{"x":-44.6,"y":227.7},{"x":-44.3,"y":229.0},{"x":-44.0,"y":228.2},{"x":-43.7,"y":227.5},{"x":-43.4,"y":228.6},{"x":-43.1,"y":227.3},{"x":-42.8,"y":228.0},{"x":-42.5,"y":226.9},{"x":-42.2,"y":227.6},{"x":-41.9,"y":226.5},{"x":-41.6,"y":228.2},{"x":-41.3,"y":227.1},{"x":-41.0,"y":226.7},{"x":-40.7,"y":227.5},{"x":-40.4,"y":226.3},{"x":-40.1,"y":227.0},{"x":-39.8,"y":226.1},
{"x":-39.3,"y":225.8},{"x":-38.7,"y":227.1},{"x":-38.1,"y":224.92},{"x":-37.5,"y":226.2},{"x":-36.9,"y":225.58},{"x":-36.3,"y":226.96},{"x":-35.7,"y":224.75},{"x":-35.1,"y":226.07},{"x":-34.5,"y":223.88},{"x":-33.9,"y":225.39},{"x":-33.3,"y":226.13},{"x":-32.7,"y":224.57},{"x":-32.1,"y":226.71},{"x":-31.5,"y":223.88},{"x":-30.9,"y":225.45},{"x":-30.3,"y":224.92},{"x":-29.7,"y":225.67},{"x":-29.1,"y":224.01},{"x":-28.5,"y":225.95},{"x":-27.9,"y":224.5},{"x":-27.3,"y":225.0},{"x":-26.7,"y":223.5},{"x":-26.1,"y":225.6},{"x":-25.5,"y":224.33},{"x":-24.9,"y":226.26},{"x":-24.3,"y":224.18},{"x":-23.7,"y":224.93},{"x":-23.1,"y":226.19},{"x":-22.5,"y":224.05},{"x":-21.9,"y":225.61},{"x":-21.3,"y":224.82},{"x":-20.7,"y":226.18},{"x":-20.1,"y":224.04},{"x":-19.5,"y":225.63},{"x":-18.9,"y":226.62},{"x":-18.3,"y":224.91},{"x":-17.7,"y":226.1},{"x":-17.1,"y":225.59},{"x":-16.5,"y":227.18},{"x":-15.9,"y":225.07},{"x":-15.3,"y":225.6},{"x":-14.7,"y":227.1},{"x":-14.1,"y":225.08},{"x":-13.5,"y":226.55},{"x":-12.9,"y":226.11},{"x":-12.3,"y":227.67},{"x":-11.7,"y":225.62},{"x":-11.1,"y":227.05},{"x":-10.5,"y":224.98},{"x":-9.9,"y":226.6},{"x":-9.3,"y":227.4},{"x":-8.7,"y":225.9},{"x":-8.1,"y":228.1},{"x":-7.5,"y":225.28},{"x":-6.9,"y":226.85},{"x":-6.3,"y":226.32},{"x":-5.7,"y":227.09},{"x":-5.1,"y":225.46},{"x":-4.5,"y":227.43},{"x":-3.9,"y":226.0},{"x":-3.3,"y":226.47},{"x":-2.7,"y":224.94},{"x":-2.1,"y":227.01},{"x":-1.5,"y":225.65},{"x":-0.9,"y":227.49},{"x":-0.3,"y":225.33},{"x":0.3,"y":225.97},{"x":0.9,"y":227.11},{"x":1.5,"y":224.85},{"x":2.1,"y":226.29},{"x":2.7,"y":225.38},{"x":3.3,"y":226.62},{"x":3.9,"y":224.36},{"x":4.5,"y":225.78},{"x":5.1,"y":226.59},{"x":5.7,"y":224.7},{"x":6.3,"y":225.69},{"x":6.9,"y":224.97},{"x":7.5,"y":226.35},{"x":8.1,"y":224.03},{"x":8.7,"y":224.4},{"x":9.3,"y":225.7},{"x":9.9,"y":223.53},{"x":10.5,"y":224.9},{"x":11.1,"y":224.47},{"x":11.7,"y":226.39},
{"x":-38.4,"y":224.9},{"x":-37.2,"y":225.9},{"x":-36.0,"y":227.1},{"x":-34.8,"y":224.5},{"x":-33.6,"y":225.1},{"x":-32.4,"y":223.4},{"x":-31.2,"y":226.5},{"x":-30.0,"y":224.3},{"x":-28.8,"y":226.6},{"x":-27.6,"y":223.7},{"x":-26.4,"y":224.8},{"x":-25.2,"y":225.4},{"x":-24.0,"y":223.0},{"x":-22.8,"y":224.9},{"x":-21.6,"y":226.7},{"x":-20.4,"y":223.5},{"x":-19.2,"y":224.4},{"x":-18.0,"y":227.2},{"x":-16.8,"y":224.2},{"x":-15.6,"y":226.3},{"x":-14.4,"y":224.4},{"x":-13.2,"y":227.2},{"x":-12.0,"y":225.3},{"x":-10.8,"y":227.8},{"x":-9.6,"y":225.5},{"x":-8.4,"y":226.2},{"x":-7.2,"y":224.5},{"x":-6.0,"y":227.7},{"x":-4.8,"y":225.0},{"x":-3.6,"y":227.8},{"x":-2.4,"y":225.9},{"x":-1.2,"y":224.3},{"x":0.0,"y":227.4},{"x":1.2,"y":225.5},{"x":2.4,"y":224.2},{"x":3.6,"y":227.0},{"x":4.8,"y":224.0},{"x":6.0,"y":226.9},{"x":7.2,"y":224.6},{"x":8.4,"y":226.0},{"x":9.6,"y":224.4},{"x":10.8,"y":223.5},
{"x":12.3,"y":224.92},{"x":12.9,"y":226.26},{"x":13.5,"y":225.1},{"x":14.1,"y":226.51},{"x":14.7,"y":227.31},{"x":15.3,"y":226.47},{"x":15.9,"y":228.21},{"x":16.5,"y":226.36},{"x":17.1,"y":227.6},{"x":17.7,"y":227.37},{"x":18.3,"y":228.05},{"x":18.9,"y":227.05},{"x":19.5,"y":228.57},{"x":20.1,"y":227.71},{"x":20.7,"y":228.14},{"x":21.3,"y":227.19},{"x":21.9,"y":228.75},{"x":22.5,"y":227.9},{"x":23.1,"y":229.29},{"x":23.7,"y":227.88},{"x":24.3,"y":228.42},{"x":24.9,"y":229.29},{"x":25.5,"y":227.78},{"x":26.1,"y":228.86},{"x":26.7,"y":228.32},{"x":27.3,"y":229.3},{"x":27.9,"y":227.81},{"x":28.5,"y":228.93},{"x":29.1,"y":229.62},{"x":29.7,"y":228.41},{"x":30.3,"y":229.25},{"x":30.9,"y":228.88},{"x":31.5,"y":229.8},{"x":32.1,"y":228.52},{"x":32.7,"y":229.48},{"x":33.3,"y":229.02},{"x":33.9,"y":229.85},{"x":34.5,"y":228.63},{"x":35.1,"y":229.61},{"x":35.7,"y":229.05},{"x":36.3,"y":229.83},{"x":36.9,"y":228.38},{"x":37.5,"y":229.4},{"x":38.1,"y":228.28},{"x":38.7,"y":229.0},{"x":39.3,"y":229.4},{"x":39.9,"y":228.4},
{"x":40.5,"y":229.6},{"x":41.1,"y":228.3},{"x":41.7,"y":229.2},{"x":42.3,"y":227.9},{"x":42.9,"y":228.8},{"x":43.5,"y":227.5},{"x":44.1,"y":229.1},{"x":44.7,"y":226.8},{"x":45.3,"y":228.3},{"x":45.9,"y":226.2},{"x":46.5,"y":227.6},{"x":47.1,"y":225.7},{"x":47.7,"y":226.9},{"x":48.3,"y":228.5},{"x":48.9,"y":227.6},{"x":49.5,"y":228.9},{"x":50.1,"y":227.9},{"x":50.7,"y":229.3},{"x":51.3,"y":228.2},{"x":51.9,"y":228.9},{"x":52.5,"y":228.4},{"x":53.1,"y":229.5},{"x":53.7,"y":228.6},{"x":54.3,"y":229.2},{"x":54.9,"y":228.1},{"x":55.5,"y":229.6},{"x":56.1,"y":228.8},{"x":56.7,"y":229.3},{"x":57.3,"y":228.4},{"x":57.9,"y":229.7},{"x":58.5,"y":228.9},{"x":59.1,"y":228.3},{"x":59.7,"y":229.4},{"x":60.3,"y":228.7},{"x":60.9,"y":229.8},{"x":61.5,"y":228.5},{"x":62.1,"y":229.2},{"x":62.7,"y":228.2},{"x":63.3,"y":229.5},{"x":63.9,"y":228.8},{"x":64.5,"y":229.1},{"x":65.1,"y":228.4},{"x":65.7,"y":229.7},{"x":66.3,"y":228.9},{"x":66.9,"y":229.3},{"x":67.5,"y":228.3},{"x":68.1,"y":229.6},{"x":68.7,"y":228.8},{"x":69.3,"y":229.2},{"x":69.9,"y":228.5},{"x":70.5,"y":229.9},{"x":71.1,"y":228.7},{"x":71.7,"y":229.4},{"x":72.3,"y":228.3},{"x":72.9,"y":229.1},{"x":73.5,"y":228.6},{"x":74.1,"y":229.8},{"x":74.7,"y":228.9},{"x":75.3,"y":229.3},{"x":75.9,"y":228.4},{"x":76.5,"y":229.6},{"x":77.1,"y":228.7},{"x":77.7,"y":229.1},{"x":78.3,"y":228.2},{"x":78.9,"y":229.4},{"x":79.5,"y":228.6},{"x":80.1,"y":229.0},{"x":80.7,"y":228.3},{"x":81.3,"y":229.5},{"x":81.9,"y":228.5},{"x":82.5,"y":228.9},{"x":83.0,"y":228.2},
{"x":46.2,"y":225.8},{"x":47.4,"y":226.2},{"x":45.6,"y":227.1},{"x":44.4,"y":228.0},{"x":42.6,"y":229.3},{"x":40.8,"y":228.8},
{"x":41.4,"y":229.8},{"x":43.2,"y":228.4},{"x":48.6,"y":227.2},{"x":50.4,"y":228.6},{"x":53.4,"y":228.2},{"x":56.4,"y":229.9},{"x":59.4,"y":229.0},{"x":62.4,"y":229.8},{"x":65.4,"y":229.0},{"x":68.4,"y":228.2},{"x":71.4,"y":229.0},{"x":74.4,"y":228.3},{"x":77.4,"y":229.9},{"x":80.4,"y":229.6},{"x":82.8,"y":229.2},
{"x":-14.7,"y":230.9},{"x":-28.2,"y":229.2},{"x":-28.2,"y":226.9},{"x":-16.1,"y":227.8},{"x":-28.2,"y":222.8},{"x":-26.6,"y":222.6},{"x":-18.4,"y":222.65},{"x":-7.7,"y":223.4},{"x":9.5,"y":222.2},{"x":-4.1,"y":228.2},{"x":-22,"y":227.3},{"x":-10,"y":228.3},{"x":2,"y":227.6},{"x":-33,"y":227.4},{"x":-36.5,"y":223.6},{"x":6.5,"y":223.3}
]
},
"layer": [
{
"data": {"name": "ecmwf"},
"mark": {"type": "point", "shape": "cross", "filled": true, "size": 26, "opacity": 1},
"encoding": {
"x": {"field": "x", "type": "quantitative", "scale": {"domain": [-90, 90], "nice": false, "zero": false},
"axis": {"orient": "bottom", "values": [-80,-60,-40,-20,0,20,40,60,80], "labelExpr": "datum.value + ''", "grid": true, "gridDash": [1,3], "gridColor": "#000", "gridOpacity": 0.7, "gridWidth": 1, "domainColor": "#000", "domainWidth": 2, "tickColor": "#000", "tickWidth": 2, "tickSize": -6, "labelPadding": 12, "labelFont": "Liberation Sans", "labelFontSize": 17, "labelColor": "#000", "title": "Latitude", "titleFont": "Liberation Sans", "titleFontSize": 19, "titleFontWeight": "normal", "titleColor": "#000", "titlePadding": 2}},
"y": {"field": "y", "type": "quantitative", "scale": {"domain": [207, 235], "nice": false, "zero": false},
"axis": {"orient": "left", "values": [210,215,220,225,230,235], "grid": true, "gridDash": [1,3], "gridColor": "#000", "gridOpacity": 0.7, "gridWidth": 1, "domainColor": "#000", "domainWidth": 2, "tickColor": "#000", "tickWidth": 2, "tickSize": -6, "labelPadding": 9, "labelFont": "Liberation Sans", "labelFontSize": 17, "labelColor": "#000", "title": "Effective temperature [K]", "titleFont": "Liberation Sans", "titleFontSize": 20, "titleFontWeight": "normal", "titleColor": "#000", "titlePadding": 7}},
"color": {"datum": "ECMWF", "type": "nominal",
"scale": {"domain": ["ECMWF", "TOMS", "TOMS + T-shift", "ECMWF + T-shift"], "range": ["#000000", "#0000ff", "#ff0000", "#00ff00"]},
"legend": {"title": null, "orient": "none", "legendX": 443, "legendY": 419, "padding": 5, "strokeColor": "#555555", "fillColor": "#ffffff", "labelFont": "Liberation Sans", "labelFontSize": 18, "labelColor": "#000", "symbolType": "cross", "symbolSize": 18, "symbolOffset": 20, "labelOffset": 15, "rowPadding": 4}}
}
},
{
"data": {"name": "toms"},
"mark": {"type": "point", "shape": "cross", "filled": true, "size": 26, "opacity": 1},
"encoding": {
"x": {"field": "x", "type": "quantitative", "axis": null},
"y": {"field": "y", "type": "quantitative", "axis": null},
"color": {"datum": "TOMS", "type": "nominal"}
}
},
{
"data": {"name": "tomsT"},
"mark": {"type": "point", "shape": "cross", "filled": true, "size": 26, "opacity": 1},
"encoding": {
"x": {"field": "x", "type": "quantitative", "axis": null},
"y": {"field": "y", "type": "quantitative", "axis": null},
"color": {"datum": "TOMS + T-shift", "type": "nominal"}
}
},
{
"data": {"name": "ecmwfT"},
"mark": {"type": "point", "shape": "cross", "filled": true, "size": 26, "opacity": 1},
"encoding": {
"x": {"field": "x", "type": "quantitative", "axis": null},
"y": {"field": "y", "type": "quantitative", "axis": null},
"color": {"datum": "ECMWF + T-shift", "type": "nominal"}
}
},
{
"data": {"name": "ecmwf"},
"mark": {"type": "point", "opacity": 0},
"encoding": {
"x": {"field": "x", "type": "quantitative", "axis": {"orient": "top", "values": [-80,-60,-40,-20,0,20,40,60,80], "labels": false, "grid": false, "domain": false, "tickColor": "#000", "tickWidth": 2, "tickSize": -6, "title": null}},
"y": {"field": "y", "type": "quantitative", "axis": {"orient": "right", "values": [210,215,220,225,230,235], "labels": false, "grid": false, "domain": false, "tickColor": "#000", "tickWidth": 2, "tickSize": -6, "title": null}}
}
}
],
"resolve": {"axis": {"x": "independent", "y": "independent"}}
}
